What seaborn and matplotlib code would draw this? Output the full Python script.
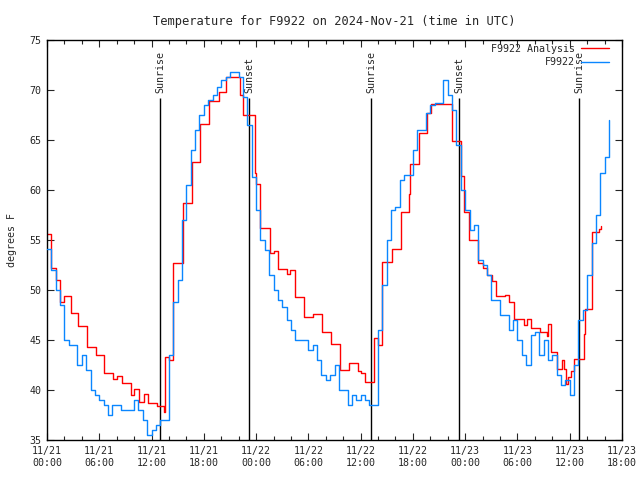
import pandas as pd
import numpy as np
import matplotlib
matplotlib.use('Agg')
import matplotlib.pyplot as plt
import matplotlib.dates as mdates
import seaborn as sns

sns.set_style('ticks')
plt.rcParams['font.family'] = ['DejaVu Sans Mono']
plt.rcParams['font.size'] = 7.2
plt.rcParams['xtick.direction'] = 'in'
plt.rcParams['ytick.direction'] = 'in'
plt.rcParams['xtick.top'] = True
plt.rcParams['ytick.right'] = True

start = pd.Timestamp('2024-11-21 00:00')

# station obs, every 30 min
blue_temps = [54.1, 52.0, 50.0, 48.5, 45.0, 44.5, 44.5, 42.5, 43.5, 42.0,
              40.0, 39.5, 39.0, 38.5, 37.5, 38.5, 38.5, 38.0, 38.0, 38.0,
              39.0, 38.0, 37.0, 35.5, 36.0, 36.5, 37.0, 37.0, 43.5, 48.8,
              51.0, 57.0, 60.5, 64.0, 66.0, 67.5, 68.5, 69.0, 69.5, 70.3,
              71.0, 71.3, 71.8, 71.8, 71.3, 69.3, 66.5, 61.3, 58.0, 55.0,
              54.0, 51.5, 50.0, 49.0, 48.3, 47.0, 46.0, 45.0, 45.0, 45.0,
              44.0, 44.5, 43.0, 41.5, 41.0, 41.5, 42.5, 40.0, 40.0, 38.5,
              39.5, 39.0, 39.5, 39.0, 38.5, 38.5, 46.0, 50.5, 55.0, 58.0,
              58.3, 61.0, 61.5, 61.5, 64.0, 66.0, 66.0, 67.7, 68.5, 68.7,
              68.7, 71.0, 69.5, 68.0, 64.5, 60.0, 58.0, 56.0, 56.5, 53.0,
              52.5, 51.5, 49.0, 49.0, 47.5, 47.5, 46.0, 47.0, 45.0, 43.5,
              42.5, 45.5, 45.8, 43.5, 45.0, 43.0, 43.5, 41.5, 40.5, 41.0,
              39.5, 42.5, 47.0, 48.0, 51.5, 54.7, 57.5, 61.7, 63.3, 67.0]
blue_hours = np.arange(len(blue_temps)) * 0.5

# analysis, change points (hours since start)
red_hours = [0.0, 0.5, 1.0, 1.5, 2.0, 2.7, 3.6, 4.55, 5.66, 6.5, 7.6, 8.0, 8.65,
             9.6, 10.0, 10.6, 11.1, 11.6, 12.65, 13.45, 13.55, 14.0, 14.5,
             15.6, 16.6, 16.7, 17.6, 18.6, 19.7, 20.5, 22.15, 22.5, 23.9, 24.0,
             24.5, 25.6, 26.0, 26.5, 27.5, 27.9, 28.5, 29.5, 30.5, 31.6, 32.6,
             33.6, 34.7, 35.7, 36.0, 36.5, 37.5, 38.0, 38.5, 39.6, 40.6, 41.5,
             41.7, 42.7, 43.6, 44.1, 46.5, 47.5, 47.9, 48.4, 49.5, 50.1, 50.5,
             51.1, 51.5, 52.6, 53.0, 53.6, 54.7, 55.1, 55.6, 56.6, 57.4, 57.5,
             57.9, 58.5, 59.1, 59.3, 59.6, 59.8, 60.1, 60.5, 61.6, 61.7, 62.5,
             63.4, 63.6]
red_temps = [55.6, 52.2, 51.0, 48.8, 49.4, 47.7, 46.4, 44.3, 43.5, 41.7, 41.1, 41.4, 40.7,
             39.5, 40.1, 38.8, 39.6, 38.7, 38.4, 37.8, 43.3, 43.0, 52.7,
             58.7, 60.3, 62.8, 66.6, 68.9, 69.8, 71.3, 69.5, 67.5, 61.7, 60.6,
             56.2, 53.7, 53.9, 52.1, 51.6, 52.0, 49.3, 47.3, 47.6, 45.8, 44.6,
             42.0, 42.7, 41.9, 41.7, 40.8, 45.2, 44.5, 52.8, 54.1, 57.8, 59.6,
             62.6, 65.7, 67.7, 68.6, 64.9, 61.4, 57.8, 55.0, 52.7, 52.2, 51.5,
             50.9, 49.4, 49.5, 48.8, 47.1, 46.5, 47.1, 46.2, 45.8, 45.4, 46.6,
             43.8, 42.1, 43.0, 42.1, 40.6, 41.3, 41.9, 43.1, 45.6, 48.1, 55.8,
             56.1, 56.4]

sun_labels = ['Sunrise', 'Sunset', 'Sunrise', 'Sunset', 'Sunrise']
sun_times = ['2024-11-21 13:00', '2024-11-21 23:11', '2024-11-22 13:11',
             '2024-11-22 23:17', '2024-11-23 13:04']

blue = pd.DataFrame({'time': start + pd.to_timedelta(blue_hours, unit='h'), 'temp': blue_temps})
red = pd.DataFrame({'time': start + pd.to_timedelta(red_hours, unit='h'), 'temp': red_temps})

fig = plt.figure(figsize=(6.4, 4.8), dpi=100)
ax = fig.add_axes([47/640, 40/480, 575/640, 400/480])

for lab, t in zip(sun_labels, sun_times):
    t = pd.Timestamp(t)
    ax.vlines(t, 35, 69.2, color='black', lw=1.0, zorder=1)
    ax.text(t, 69.7, lab, rotation=90, ha='center', va='bottom')

sns.lineplot(data=red, x='time', y='temp', drawstyle='steps-post', color='#ff0000',
             lw=1.0, label='F9922 Analysis', ax=ax, zorder=2)
sns.lineplot(data=blue, x='time', y='temp', drawstyle='steps-post', color='#0a86ff',
             lw=1.0, label='F9922', ax=ax, zorder=3)

ax.set_xlim(start, start + pd.Timedelta(hours=66))
ax.set_ylim(35, 75)
ax.set_yticks(range(35, 80, 5))
ax.xaxis.set_major_locator(mdates.HourLocator(byhour=range(0, 24, 6)))
ax.xaxis.set_minor_locator(mdates.HourLocator(interval=2))
ax.xaxis.set_major_formatter(mdates.DateFormatter('%m/%d\n%H:%M'))
ax.tick_params(which='major', length=5, width=0.8, pad=4)
ax.tick_params(which='minor', length=3, width=0.8)
ax.tick_params(axis='y', which='minor', left=False, right=False)
for lbl in ax.get_xticklabels():
    lbl.set_linespacing(1.3)
for s in ax.spines.values():
    s.set_linewidth(1.0)
    s.set_color('black')

ax.set_xlabel('')
ax.set_ylabel('degrees F', labelpad=9)
ax.set_title('Temperature for F9922 on 2024-Nov-21 (time in UTC)', pad=11)

leg = ax.legend(loc='upper right', bbox_to_anchor=(1 - 6/575, 1 + 3/400),
                frameon=False, markerfirst=False,
                handlelength=2.8, borderaxespad=0.3, labelspacing=0.35,
                handletextpad=0.6)

fig.savefig('out.png', dpi=100)
